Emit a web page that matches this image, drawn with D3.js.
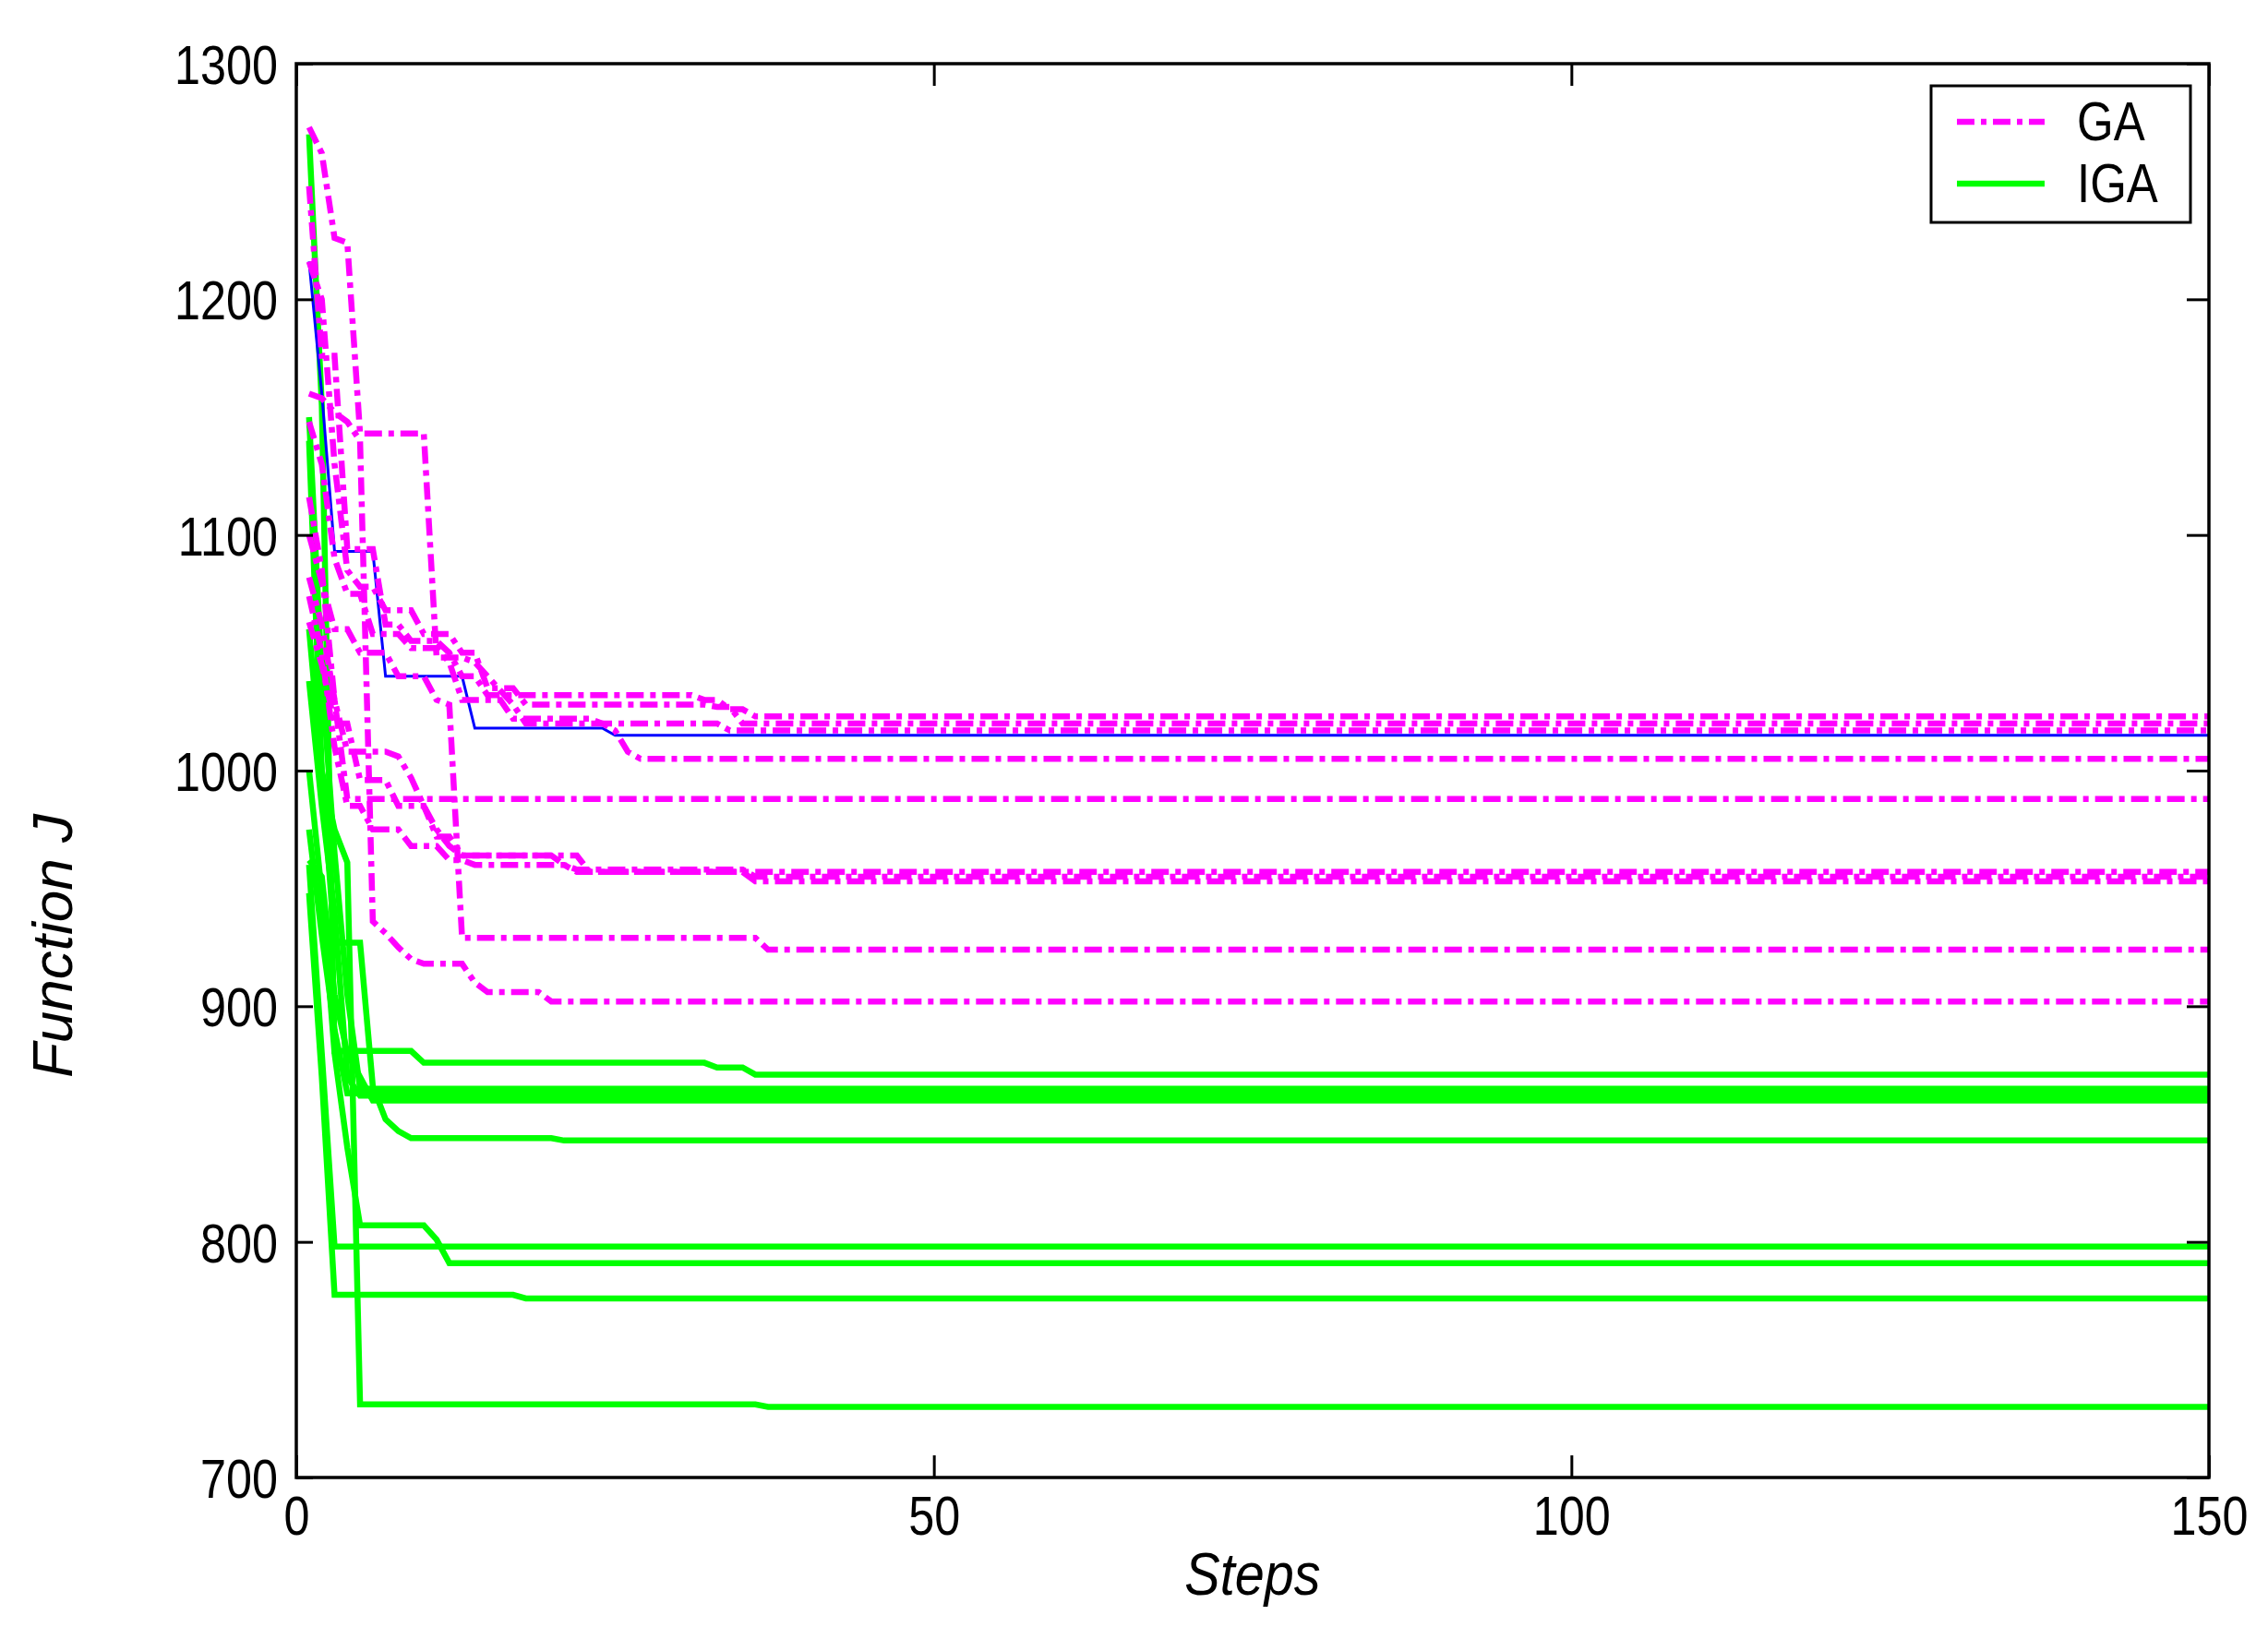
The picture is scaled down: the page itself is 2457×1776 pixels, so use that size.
<!DOCTYPE html>
<html>
<head>
<meta charset="utf-8">
<script src="https://cdn.jsdelivr.net/npm/d3@7"></script>
<style>
  body { margin: 0; background: #fff; }
  text { font-family: "Liberation Sans", Arial, sans-serif; fill: #000; }
</style>
</head>
<body>
<script>
// best-so-far J per run, as [step, value] change points (value holds until next point)
var ga1 = [[1,1273],[2,1262],[3,1226],[4,1224],[5,1143],[10,1143],[11,1048],[14,1046],[15,1040],[16,1034],[17,1028],[18,1020],[25,1017],[26,1008],[27,1005]];
var ga2 = [[1,1248],[2,1176],[3,1176],[4,1094],[6,1094],[7,1062],[9,1055],[12,1050],[13,1040],[15,1032],[32,1030],[34,1026],[36,1023]];
var ga3 = [[1,1216],[2,1200],[3,1130],[4,1085],[5,1078],[7,1068],[10,1058],[13,1050],[15,1035],[18,1028],[33,1027],[35,1020]];
var ga4 = [[1,1148],[2,1130],[3,1090],[4,1075],[6,1058],[9,1052],[12,1046],[13,1030],[17,1022],[24,1020],[34,1017]];
var ga5 = [[1,1116],[2,1085],[3,1030],[4,988]];
var ga6 = [[1,1082],[2,1062],[3,1030],[4,1008],[8,1006],[9,997],[10,985],[11,975],[12,968],[13,964],[20,964],[21,960],[22,957]];
var ga7 = [[1,1074],[2,1050],[3,1010],[4,985],[6,975],[9,968],[12,962],[14,960],[22,958],[36,955]];
var ga8 = [[1,1063],[2,1045],[3,1020],[5,996],[8,985],[11,972],[13,964],[23,957],[36,953]];
var ga9 = [[1,1100],[2,1080],[3,1060],[5,1050],[8,1040],[11,1030],[12,1028],[13,929],[36,929],[37,924]];
var ga10 = [[1,1160],[2,1158],[3,1152],[4,1148],[5,1140],[6,936],[7,931],[8,925],[9,920],[10,918],[13,918],[14,910],[15,906],[19,906],[20,902]];
var gaBlue = [[1,1216],[2,1160],[3,1093],[6,1093],[7,1040],[13,1040],[14,1018],[24,1018],[25,1015]];

var iga1 = [[1,1270],[2,1155],[3,881],[9,881],[10,876],[32,876],[33,874],[35,874],[36,871]];
var iga2 = [[1,1150],[2,1040],[3,965],[4,905],[5,865]];
var iga3 = [[1,1038],[2,985],[3,940],[4,870],[5,862]];
var iga4 = [[1,962],[2,955],[3,905],[4,880],[5,870],[6,860]];
var iga5 = [[1,1140],[2,1000],[3,927],[5,927],[6,866],[7,852],[8,847],[9,844],[20,844],[21,843]];
var iga6 = [[1,960],[2,880],[3,798]];
var iga7 = [[1,1000],[2,948],[3,880],[4,840],[5,807],[10,807],[11,801],[12,791]];
var iga8 = [[1,948],[2,870],[3,777.5],[17,777.5],[18,776]];
var iga9 = [[1,1060],[2,1000],[3,975],[4,961],[5,731],[36,731],[37,730]];
var iga10 = [[1,975],[2,930],[3,890],[4,863]];

var gaRuns = [ga1, ga2, ga3, ga4, ga5, ga6, ga7, ga8, ga9, ga10];
var igaRuns = [iga1, iga2, iga3, iga4, iga5, iga6, iga7, iga8, iga9, iga10];

var lastStep = 150;
var xTicks = [0, 50, 100, 150];
var yTicks = [700, 800, 900, 1000, 1100, 1200, 1300];
var legendNames = ["GA", "IGA"];

var width = 2457, height = 1776;
var margin = {left: 321, top: 69, right: 64, bottom: 175};

// each run keeps its best value until it improves
function hold(points) {
    var out = [], k = 0;
    for (var s = points[0][0]; s <= lastStep; s++) {
        while (k + 1 < points.length && points[k + 1][0] <= s) k++;
        out.push([s, points[k][1]]);
    }
    return out;
}

var svg = d3.select("body").append("svg").attr("width", width).attr("height", height);

var x = d3.scaleLinear().domain([0, 150]).range([margin.left, width - margin.right]);
var y = d3.scaleLinear().domain([700, 1300]).range([height - margin.bottom, margin.top]);

var line = d3.line().x(function (d) { return x(d[0]); }).y(function (d) { return y(d[1]); });

var plot = svg.append("g");

plot.selectAll("path.iga").data(igaRuns).enter().append("path")
    .attr("class", "iga")
    .attr("d", function (d) { return line(hold(d)); })
    .attr("fill", "none").attr("stroke", "#00ff00").attr("stroke-width", 6.5)
    .attr("stroke-linejoin", "miter");

plot.append("path")
    .attr("d", line(hold(gaBlue)))
    .attr("fill", "none").attr("stroke", "#0000ff").attr("stroke-width", 3);

plot.selectAll("path.ga").data(gaRuns).enter().append("path")
    .attr("class", "ga")
    .attr("d", function (d) { return line(hold(d)); })
    .attr("fill", "none").attr("stroke", "#ff00ff").attr("stroke-width", 6.5)
    .attr("stroke-dasharray", "19,7,6,7");

// axes, ticks pointing inward on all four sides
var fs = 60, sx = 0.84;

var bottom = svg.append("g").attr("transform", "translate(0," + y(700) + ")")
    .call(d3.axisBottom(x).tickValues(xTicks).tickSizeInner(-24).tickSizeOuter(0).tickFormat(d3.format("d")));
bottom.selectAll("text").attr("y", 62).attr("dy", null)
    .attr("font-size", fs).attr("transform", "scale(" + sx + ",1)");

var top = svg.append("g").attr("transform", "translate(0," + y(1300) + ")")
    .call(d3.axisTop(x).tickValues(xTicks).tickSizeInner(-24).tickSizeOuter(0).tickFormat(""));

var left = svg.append("g").attr("transform", "translate(" + x(0) + ",0)")
    .call(d3.axisLeft(y).tickValues(yTicks).tickSizeInner(-18).tickSizeOuter(0).tickFormat(d3.format("d")));
left.selectAll("text").attr("x", 0).attr("dy", "0.36em")
    .attr("font-size", fs).attr("transform", "translate(-20,0) scale(" + sx + ",1)");

var right = svg.append("g").attr("transform", "translate(" + x(150) + ",0)")
    .call(d3.axisRight(y).tickValues(yTicks).tickSizeInner(-24).tickSizeOuter(0).tickFormat(""));

svg.selectAll(".domain").remove();
svg.selectAll(".tick line").attr("stroke", "#000").attr("stroke-width", 3);

svg.append("rect")
    .attr("x", x(0)).attr("y", y(1300))
    .attr("width", x(150) - x(0)).attr("height", y(700) - y(1300))
    .attr("fill", "none").attr("stroke", "#000").attr("stroke-width", 3.5);

// axis titles
svg.append("text")
    .attr("transform", "translate(" + (x(0) + x(150)) / 2 + ",1728) scale(0.9,1)")
    .attr("text-anchor", "middle").attr("font-size", 64).attr("font-style", "italic")
    .text("Steps");

svg.append("text")
    .attr("transform", "translate(78,1025) rotate(-90)")
    .attr("text-anchor", "middle").attr("font-size", 62).attr("font-style", "italic")
    .text("Function J");

// legend
var legend = svg.append("g");
legend.append("rect")
    .attr("x", 2092).attr("y", 93).attr("width", 281).attr("height", 148)
    .attr("fill", "#fff").attr("stroke", "#000").attr("stroke-width", 3);

var legendRows = legend.selectAll("g.row").data(legendNames).enter().append("g")
    .attr("class", "row")
    .attr("transform", function (d, i) { return "translate(0," + (132 + i * 67) + ")"; });

legendRows.append("line")
    .attr("x1", 2120).attr("x2", 2215).attr("y1", 0).attr("y2", 0)
    .attr("stroke", function (d) { return d === "GA" ? "#ff00ff" : "#00ff00"; })
    .attr("stroke-width", 6.5)
    .attr("stroke-dasharray", function (d) { return d === "GA" ? "19,7,6,7" : null; });

legendRows.append("text")
    .attr("transform", "translate(2250,20) scale(0.85,1)")
    .attr("font-size", fs)
    .text(function (d) { return d; });
</script>
</body>
</html>
